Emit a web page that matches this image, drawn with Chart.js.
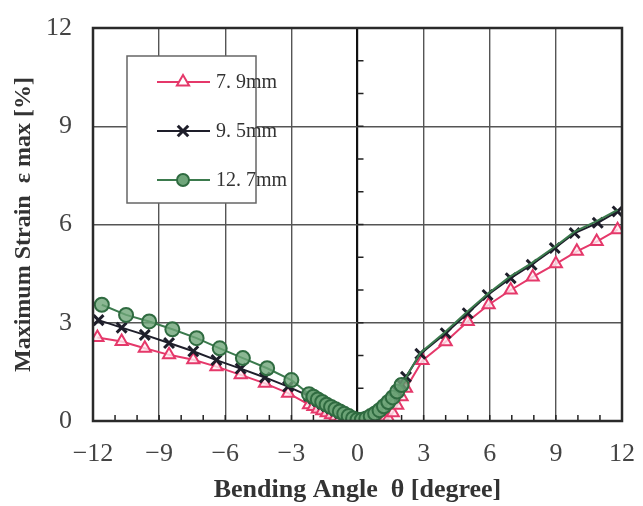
<!DOCTYPE html>
<html>
<head>
<meta charset="utf-8">
<script src="https://cdn.jsdelivr.net/npm/chart.js@4.4.0/dist/chart.umd.min.js"></script>
<style>
    html, body { margin: 0; padding: 0; background: #fff; }
</style>
</head>
<body>
<canvas id="myChart" width="643" height="506"></canvas>
<script>
// valores (ângulo em graus, deformação em %)
const centerAngle = [-2.2, -2.0, -1.8, -1.6, -1.4, -1.2, -1.0, -0.8, -0.6, -0.4, -0.2, 0, 0.2, 0.4, 0.6, 0.8, 1.0, 1.2, 1.4, 1.6, 1.8, 2.0, 2.2]

const angle79 = [-11.8, -10.7, -9.65, -8.55, -7.45, -6.4, -5.3, -4.2, -3.15].concat(centerAngle, [2.95, 4.0, 5.0, 5.95, 6.95, 7.95, 9.0, 9.95, 10.85, 11.8])
const strain79 = [2.55, 2.43, 2.22, 2.02, 1.87, 1.66, 1.41, 1.15, 0.85,
    0.5, 0.44, 0.37, 0.31, 0.25, 0.19, 0.13, 0.08, 0.03, 0, 0, 0, 0, 0, 0, 0, 0, 0.02, 0.08, 0.25, 0.48, 0.74, 1.0,
    1.85, 2.42, 3.04, 3.55, 4.0, 4.4, 4.8, 5.18, 5.48, 5.84]

const angle95 = [-11.75, -10.7, -9.65, -8.55, -7.45, -6.4, -5.3, -4.2, -3.15].concat(centerAngle, [2.85, 4.0, 5.0, 5.9, 6.95, 7.9, 8.95, 9.85, 10.9, 11.8])
const strain95 = [3.08, 2.85, 2.63, 2.38, 2.13, 1.86, 1.6, 1.33, 1.05,
    0.76, 0.68, 0.6, 0.52, 0.45, 0.38, 0.31, 0.24, 0.17, 0.11, 0.05, 0.02, 0.03, 0.07, 0.14, 0.22, 0.32, 0.44, 0.58, 0.74, 0.92, 1.12, 1.35,
    2.05, 2.68, 3.29, 3.85, 4.36, 4.77, 5.28, 5.74, 6.05, 6.4]

const angle127 = [-11.6, -10.5, -9.45, -8.4, -7.3, -6.25, -5.2, -4.1, -3.0].concat(centerAngle.slice(0, 22), [2.85, 3.95, 4.95, 5.9, 6.9, 7.9, 8.95, 9.85, 10.85, 11.8])
const strain127 = [3.55, 3.24, 3.04, 2.8, 2.53, 2.22, 1.92, 1.61, 1.25,
    0.82, 0.74, 0.66, 0.58, 0.5, 0.43, 0.36, 0.29, 0.22, 0.15, 0.08, 0.04, 0.04, 0.08, 0.15, 0.23, 0.33, 0.45, 0.58, 0.72, 0.9, 1.1,
    2.08, 2.7, 3.32, 3.88, 4.4, 4.82, 5.32, 5.78, 6.1, 6.45]

const seriesLabels = ["7. 9mm", "9. 5mm", "12. 7mm"]
const xTicks = [-12, -9, -6, -3, 0, 3, 6, 9, 12]
const yTicks = [0, 3, 6, 9, 12]

let corVermelho = "#e5386a"
let corPreto = "#1e1e2a"
let corVerde = "#3b7a4d"

function pontos(xs, ys) {
    let arr = []
    for (let i = 0; i < xs.length; i++) {
        arr.push({ x: xs[i], y: ys[i] })
    }
    return arr
}

// ticks menores e moldura
const extras = {
    id: "extras",
    beforeDatasetsDraw(chart) {
        const ctx = chart.ctx
        const a = chart.chartArea
        const sx = chart.scales.x
        const sy = chart.scales.y
        ctx.save()
        ctx.strokeStyle = "#222"
        ctx.lineWidth = 1.5
        for (let v = -11; v <= 11; v++) {
            let px = sx.getPixelForValue(v)
            ctx.beginPath()
            ctx.moveTo(px, a.bottom)
            ctx.lineTo(px, a.bottom - 6)
            ctx.stroke()
        }
        let x0 = sx.getPixelForValue(0)
        for (let v = 1; v < 12; v++) {
            let py = sy.getPixelForValue(v)
            ctx.beginPath()
            ctx.moveTo(x0, py)
            ctx.lineTo(x0 + 6, py)
            ctx.stroke()
        }
        ctx.restore()
    },
    afterDatasetsDraw(chart) {
        const ctx = chart.ctx
        const a = chart.chartArea
        ctx.save()
        ctx.strokeStyle = "#2a2a2a"
        ctx.lineWidth = 2.5
        ctx.strokeRect(a.left, a.top, a.right - a.left, a.bottom - a.top)
        ctx.restore()
    },
}

// legenda dentro da área do gráfico
const legendaBox = {
    id: "legendaBox",
    afterDraw(chart) {
        const ctx = chart.ctx
        const a = chart.chartArea
        const bx = a.left + 34
        const by = a.top + 28
        ctx.save()
        ctx.fillStyle = "#fff"
        ctx.fillRect(bx, by, 129, 147)
        ctx.strokeStyle = "#666"
        ctx.lineWidth = 1.5
        ctx.strokeRect(bx, by, 129, 147)
        chart.data.datasets.forEach(function (ds, i) {
            let y = by + 26 + i * 49
            let mx = bx + 56
            ctx.strokeStyle = ds.borderColor
            ctx.lineWidth = 2
            ctx.beginPath()
            ctx.moveTo(bx + 30, y)
            ctx.lineTo(bx + 83, y)
            ctx.stroke()
            ctx.fillStyle = ds.legendFill
            ctx.strokeStyle = ds.pointBorderColor
            ctx.lineWidth = ds.pointBorderWidth
            let r = 7
            ctx.beginPath()
            if (ds.pointStyle === "triangle") {
                ctx.moveTo(mx, y - r)
                ctx.lineTo(mx + r * 0.87, y + r * 0.5)
                ctx.lineTo(mx - r * 0.87, y + r * 0.5)
                ctx.closePath()
                ctx.fill()
                ctx.stroke()
            } else if (ds.pointStyle === "crossRot") {
                let d = r * 0.75
                ctx.moveTo(mx - d, y - d)
                ctx.lineTo(mx + d, y + d)
                ctx.moveTo(mx + d, y - d)
                ctx.lineTo(mx - d, y + d)
                ctx.stroke()
            } else {
                ctx.arc(mx, y, 6, 0, Math.PI * 2)
                ctx.fill()
                ctx.stroke()
            }
            ctx.fillStyle = "#333"
            ctx.font = "20px 'Liberation Serif'"
            ctx.textBaseline = "middle"
            ctx.fillText(ds.label, bx + 89, y + 1)
        })
        ctx.restore()
    },
}

const ctx = document.getElementById("myChart").getContext("2d")
let myChart = new Chart(ctx, {
    type: "line",
    data: {
        datasets: [
            {
                label: seriesLabels[0],
                data: pontos(angle79, strain79),
                borderColor: corVermelho,
                borderWidth: 2,
                pointStyle: "triangle",
                pointRadius: 7,
                pointBorderWidth: 2,
                pointBorderColor: corVermelho,
                pointBackgroundColor: "rgba(255,235,240,0.8)",
                legendFill: "#fff",
                order: 2,
            },
            {
                label: seriesLabels[1],
                data: pontos(angle95, strain95),
                borderColor: corPreto,
                borderWidth: 2,
                pointStyle: "crossRot",
                pointRadius: 7,
                pointBorderWidth: 3,
                pointBorderColor: corPreto,
                pointBackgroundColor: corPreto,
                legendFill: corPreto,
                order: 1,
            },
            {
                label: seriesLabels[2],
                data: pontos(angle127, strain127),
                borderColor: corVerde,
                borderWidth: 2,
                pointStyle: "circle",
                pointRadius: function (c) {
                    // do lado direito os círculos ficam escondidos sob os X
                    return c.raw && c.raw.x > 2.5 ? 0 : 7
                },
                pointBorderWidth: 2,
                pointBorderColor: "#2f6b40",
                pointBackgroundColor: "rgba(110,165,120,0.8)",
                legendFill: "#6fa57a",
                order: 0,
            },
        ],
    },
    options: {
        responsive: false,
        animation: false,
        layout: { padding: { top: 28, right: 21, left: 0, bottom: 0 } },
        plugins: {
            legend: { display: false },
            tooltip: { enabled: false },
        },
        scales: {
            x: {
                type: "linear",
                min: -12,
                max: 12,
                afterFit: function (scale) {
                    scale.height = 85
                    scale.paddingLeft = 0
                    scale.paddingRight = 0
                },
                afterBuildTicks: function (scale) {
                    scale.ticks = xTicks.map(function (v) { return { value: v } })
                },
                grid: {
                    color: function (c) { return c.tick && c.tick.value === 0 ? "#111" : "#555" },
                    lineWidth: function (c) { return c.tick && c.tick.value === 0 ? 2.2 : 1.4 },
                    drawTicks: false,
                },
                border: { display: false },
                ticks: {
                    padding: 18,
                    color: "#444",
                    font: { family: "'Liberation Serif'", size: 26 },
                    callback: function (v) { return v < 0 ? "\u2212" + Math.abs(v) : String(v) },
                },
                title: {
                    display: true,
                    text: "Bending Angle  \u03b8 [degree]",
                    color: "#333",
                    padding: { top: 0, bottom: 0 },
                    font: { family: "'Liberation Serif'", size: 26, weight: "bold" },
                },
            },
            y: {
                type: "linear",
                min: 0,
                max: 12,
                afterFit: function (scale) {
                    scale.width = 93
                    scale.paddingTop = 0
                    scale.paddingBottom = 0
                },
                afterBuildTicks: function (scale) {
                    scale.ticks = yTicks.map(function (v) { return { value: v } })
                },
                grid: {
                    color: "#555",
                    lineWidth: 1.4,
                    drawTicks: false,
                },
                border: { display: false },
                ticks: {
                    padding: 21,
                    color: "#444",
                    font: { family: "'Liberation Serif'", size: 26 },
                },
                title: {
                    display: true,
                    text: "Maximum Strain  \u03b5 max [%]",
                    color: "#333",
                    padding: { top: 9, bottom: 0 },
                    font: { family: "'Liberation Serif'", size: 24, weight: "bold" },
                },
            },
        },
    },
    plugins: [extras, legendaBox],
})
</script>
</body>
</html>
